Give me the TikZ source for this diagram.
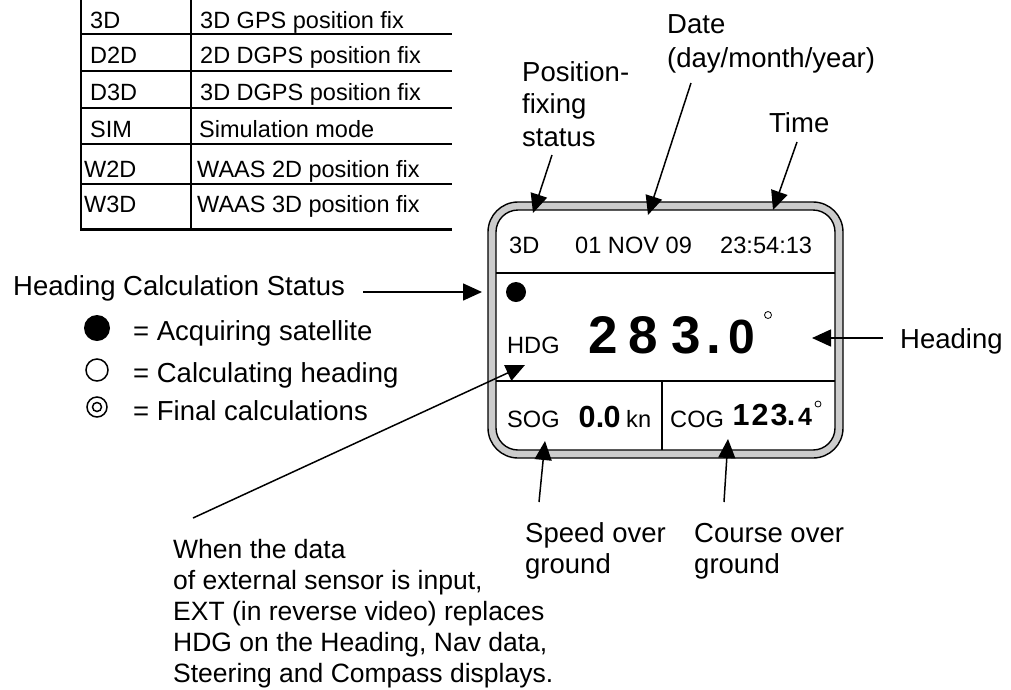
\documentclass[tikz,border=0pt]{standalone}
\usepackage{fontspec}
\setmainfont{Liberation Sans}
\usetikzlibrary{arrows.meta}
\begin{document}
\begin{tikzpicture}[x=1pt,y=-1pt,
  lbl/.style={anchor=base west,inner sep=0pt,font=\fontsize{27.5}{32}\selectfont},
  note/.style={anchor=base west,inner sep=0pt,font=\fontsize{26.5}{31}\selectfont},
  tbl/.style={anchor=base west,inner sep=0pt,font=\fontsize{23.5}{27}\selectfont},
  disp/.style={anchor=base west,inner sep=0pt,font=\fontsize{23.6}{28}\selectfont},
  big/.style={anchor=base,inner sep=0pt,font=\fontsize{53}{60}\selectfont\bfseries},
  bigs/.style={anchor=base,inner sep=0pt,font=\fontsize{48}{56}\selectfont\bfseries},
  mid/.style={anchor=base,inner sep=0pt,font=\fontsize{30.5}{34}\selectfont\bfseries},
  mids/.style={anchor=base,inner sep=0pt,font=\fontsize{25}{30}\selectfont\bfseries},
  conn/.style={line width=1.5pt,-{Triangle[length=19pt,width=17pt]}},
  rule/.style={line width=1.4pt}]
\useasboundingbox (0,0) rectangle (1011,689);

% ---------- table ----------
\draw[line width=2.5pt] (81,0) -- (81,229);
\draw[line width=1.3pt] (191,0) -- (191,229);
\foreach \yy in {34,71,108,144,184} \draw[line width=1.3pt] (81,\yy) -- (452,\yy);
\draw[line width=3pt] (80,229) -- (452,229);
\node[tbl] (ta1) at (90,28)  {3D};
\node[tbl] (tb1) at (200,28) {3D GPS position fix};
\node[tbl] (ta2) at (90,63)  {D2D};
\node[tbl] (tb2) at (200,63) {2D DGPS position fix};
\node[tbl] (ta3) at (90,100) {D3D};
\node[tbl] (tb3) at (200,100) {3D DGPS position fix};
\node[tbl] (ta4) at (90,137) {SIM};
\node[tbl] (tb4) at (199,137) {Simulation mode};
\node[tbl] (ta5) at (84,177) {W2D};
\node[tbl] (tb5) at (197,177) {WAAS 2D position fix};
\node[tbl] (ta6) at (84,212) {W3D};
\node[tbl] (tb6) at (197,212) {WAAS 3D position fix};

% ---------- display ----------
\draw[line width=1.4pt, fill=black!20, rounded corners=30pt] (488,202) rectangle (843,458);
\draw[line width=1.4pt, fill=white, rounded corners=22pt] (496,210) rectangle (835,450);
\draw[rule] (496,273) -- (835,273);
\draw[rule] (496,381) -- (835,381);
\draw[rule] (662,381) -- (662,450);

\node[disp] (d3d) at (509,253) {3D};
\node[disp] (ddate) at (575,253) {01 NOV 09};
\node[disp] (dtime) at (720,253) {23:54:13};
\fill (516,292) circle[radius=10];
\node[disp] (dhdg) at (507,353) {HDG};
\node[big] (h1) at (603,353) {2};
\node[big] (h2) at (643,353) {8};
\node[big] (h3) at (686,353) {3};
\node[big] (h4) at (714,353) {.};
\node[bigs] (h5) at (742,353) {0};
\draw[line width=0.8pt] (768,315) circle[radius=3.5];
\node[disp] (dsog) at (507,427) {SOG};
\node[mid] (s1) at (587,427) {0};
\node[mid] (s2) at (600,427) {.};
\node[mid] (s3) at (612,427) {0};
\node[disp] (skn) at (626,427) {kn};
\node[disp] (dcog) at (670,427) {COG};
\node[mid] (c1) at (741,425) {1};
\node[mid] (c2) at (760,425) {2};
\node[mid] (c3) at (779,425) {3};
\node[mid] (c4) at (791,425) {.};
\node[mids] (c5) at (805,425) {4};
\draw[line width=0.8pt] (818,404) circle[radius=3];

% ---------- labels ----------
\node[lbl] (pf1) at (522,81)  {Position-};
\node[lbl] (pf2) at (522,113) {fixing};
\node[lbl] (pf3) at (522,146) {status};
\node[lbl] (dt1) at (667,33)  {Date};
\node[lbl] (dt2) at (667,67)  {(day/month/year)};
\node[lbl] (tm)  at (769,132) {Time};
\node[lbl] (hcs) at (13,295)  {Heading Calculation Status};
\fill (97,328) circle[radius=13];
\node[lbl] (lg1) at (133,340) {= Acquiring satellite};
\draw[line width=1.5pt] (97,370) circle[radius=11];
\node[lbl] (lg2) at (133,382) {= Calculating heading};
\draw[line width=1.5pt] (97,407) circle[radius=10];
\draw[line width=1.5pt] (97,407) circle[radius=4.5];
\node[lbl] (lg3) at (133,420) {= Final calculations};
\node[lbl] (hd)  at (900,348) {Heading};
\node[lbl] (sp1) at (525,542) {Speed over};
\node[lbl] (sp2) at (525,573) {ground};
\node[lbl] (co1) at (694,542) {Course over};
\node[lbl] (co2) at (694,573) {ground};
\node[note] (n1) at (173,558) {When the data};
\node[note] (n2) at (173,589) {of external sensor is input,};
\node[note] (n3) at (173,620) {EXT (in reverse video) replaces};
\node[note] (n4) at (173,651) {HDG on the Heading, Nav data,};
\node[note] (n5) at (173,682) {Steering and Compass displays.};

% ---------- connectors ----------
\coordinate (pfS) at (552,155); \coordinate (pfT) at (533,213);
\coordinate (dtS) at (691,83);  \coordinate (dtT) at (648,215);
\coordinate (tmS) at (797,142); \coordinate (tmT) at (773,210);
\coordinate (hcS) at (363,292); \coordinate (hcT) at (482,292);
\coordinate (hdS) at (883,338); \coordinate (hdT) at (812,338);
\coordinate (ngS) at (193,518); \coordinate (ngT) at (525,365);
\coordinate (spS) at (539,502); \coordinate (spT) at (545,441);
\coordinate (coS) at (724,502); \coordinate (coT) at (728,439);
\draw[conn] (pfS) -- (pfT);
\draw[conn] (dtS) -- (dtT);
\draw[conn] (tmS) -- (tmT);
\draw[conn] (hcS) -- (hcT);
\draw[conn] (hdS) -- (hdT);
\draw[conn] (ngS) -- (ngT);
\draw[conn] (spS) -- (spT);
\draw[conn] (coS) -- (coT);
\end{tikzpicture}
\end{document}
